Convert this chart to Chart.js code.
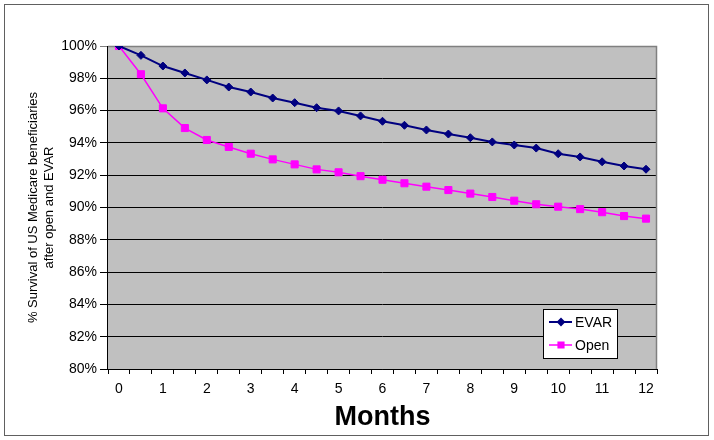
<!DOCTYPE html>
<html>
<head>
<meta charset="utf-8">
<script src="https://cdn.jsdelivr.net/npm/chart.js@4"></script>
<style>
  body { margin: 0; background: #fff; }
  #wrap { width: 714px; height: 440px; }
</style>
</head>
<body>
<div id="wrap"><canvas id="myChart" width="714" height="440"></canvas></div>
<script>
'use strict';

// months after the repair, every half month
let months = ['0','0.5','1','1.5','2','2.5','3','3.5','4','4.5','5','5.5','6','6.5','7','7.5','8','8.5','9','9.5','10','10.5','11','11.5','12'];
// survival in %
let evarSurvival = [100, 99.42, 98.76, 98.33, 97.9, 97.46, 97.15, 96.78, 96.49, 96.18, 95.98, 95.67, 95.34, 95.09, 94.8, 94.55, 94.32, 94.06, 93.87, 93.68, 93.33, 93.13, 92.83, 92.57, 92.37];
let openSurvival = [100, 98.25, 96.14, 94.92, 94.18, 93.75, 93.33, 92.98, 92.67, 92.36, 92.18, 91.94, 91.72, 91.5, 91.29, 91.08, 90.86, 90.65, 90.42, 90.2, 90.05, 89.9, 89.71, 89.47, 89.31];
let yMin = 80;
let yMax = 100;
let yStep = 2;

let fontFam = '"Liberation Sans", Arial, sans-serif';

// white page, outer frame and the grey plot area
let backPlugin = {
  id: 'backPlugin',
  beforeDraw(chart) {
    let c = chart.ctx;
    let a = chart.chartArea;
    c.save();
    c.fillStyle = '#fff';
    c.fillRect(0, 0, chart.width, chart.height);
    c.strokeStyle = '#606060';
    c.lineWidth = 1;
    c.strokeRect(4.5, 4.5, 704, 431);
    c.fillStyle = '#c0c0c0';
    c.fillRect(a.left, a.top, a.right - a.left, a.bottom - a.top);
    c.restore();
  },
  beforeDatasetsDraw(chart) {
    let c = chart.ctx;
    let a = chart.chartArea;
    c.save();
    c.strokeStyle = '#808080';
    c.lineWidth = 1.5;
    c.beginPath();
    c.moveTo(a.left, a.top + 0.5);
    c.lineTo(a.right - 0.5, a.top + 0.5);
    c.lineTo(a.right - 0.5, a.bottom);
    c.stroke();
    c.strokeStyle = '#000';
    c.lineWidth = 1;
    c.beginPath();
    c.moveTo(a.left - 0.5, a.top);
    c.lineTo(a.left - 0.5, a.bottom + 0.5);
    c.lineTo(a.right, a.bottom + 0.5);
    c.stroke();
    c.restore();
  }
};

// legend box inside the plot, bottom right
let boxLegend = {
  id: 'boxLegend',
  afterDraw(chart) {
    let c = chart.ctx;
    let x = 543, y = 309, w = 74, h = 49;
    c.save();
    c.fillStyle = '#fff';
    c.fillRect(x, y, w, h);
    c.strokeStyle = '#000';
    c.lineWidth = 1;
    c.strokeRect(x + 0.5, y + 0.5, w, h);
    c.font = '14px ' + fontFam;
    c.textBaseline = 'middle';
    chart.data.datasets.forEach(function(ds, i) {
      let cy = y + 13 + i * 23;
      c.strokeStyle = ds.borderColor;
      c.lineWidth = ds.borderWidth;
      c.beginPath();
      c.moveTo(x + 6, cy);
      c.lineTo(x + 29, cy);
      c.stroke();
      Chart.helpers.drawPoint(c, {
        pointStyle: ds.pointStyle,
        radius: ds.pointRadius - 1,
        borderWidth: 1
      }, x + 18, cy);
      c.fillStyle = ds.borderColor;
      c.fill();
      c.fillStyle = '#000';
      c.fillText(ds.label, x + 32, cy + 1);
    });
    c.restore();
  }
};

let ctx = document.getElementById('myChart').getContext('2d');
let myChart = new Chart(ctx, {
  type: 'line',
  data: {
    labels: months,
    datasets: [{
      label: 'EVAR',
      data: evarSurvival,
      borderColor: '#000080',
      backgroundColor: '#000080',
      borderWidth: 2,
      pointStyle: 'rectRot',
      pointRadius: 4,
      pointBorderWidth: 1,
      tension: 0
    }, {
      label: 'Open',
      data: openSurvival,
      borderColor: '#ff00ff',
      backgroundColor: '#ff00ff',
      borderWidth: 1.5,
      pointStyle: 'rect',
      pointRadius: 5,
      pointBorderWidth: 1,
      tension: 0
    }]
  },
  options: {
    responsive: false,
    animation: false,
    events: [],
    layout: {
      padding: { top: 46, right: 57, left: 0, bottom: 0 }
    },
    plugins: {
      legend: { display: false },
      tooltip: { enabled: false }
    },
    scales: {
      x: {
        type: 'category',
        offset: true,
        afterFit: function(s) { s.height = 71; },
        border: { display: false },
        grid: {
          offset: true,
          drawOnChartArea: false,
          drawTicks: true,
          tickLength: 5,
          color: '#000'
        },
        ticks: {
          autoSkip: false,
          maxRotation: 0,
          color: '#000',
          padding: 7,
          font: { family: fontFam, size: 14 },
          callback: function(v, i) { return i % 2 === 0 ? months[i] : ''; }
        },
        title: {
          display: true,
          text: 'Months',
          color: '#000',
          font: { family: fontFam, size: 27, weight: 'bold' },
          padding: { top: 0, bottom: 6 }
        }
      },
      y: {
        min: yMin,
        max: yMax,
        afterFit: function(s) { s.width = 108; },
        border: { display: false },
        grid: {
          color: function(c) { return c.tick && c.tick.value === yMax ? '#808080' : '#000'; },
          lineWidth: 1,
          tickLength: 8,
          drawTicks: true
        },
        ticks: {
          stepSize: yStep,
          color: '#000',
          padding: 3,
          font: { family: fontFam, size: 14 },
          callback: function(v) { return v + '%'; }
        },
        title: {
          display: true,
          text: ['% Survival of US Medicare beneficiaries', 'after open and EVAR'],
          color: '#000',
          font: { family: fontFam, size: 13 },
          padding: { top: 26, bottom: 0 }
        }
      }
    }
  },
  plugins: [backPlugin, boxLegend]
});
</script>
</body>
</html>
